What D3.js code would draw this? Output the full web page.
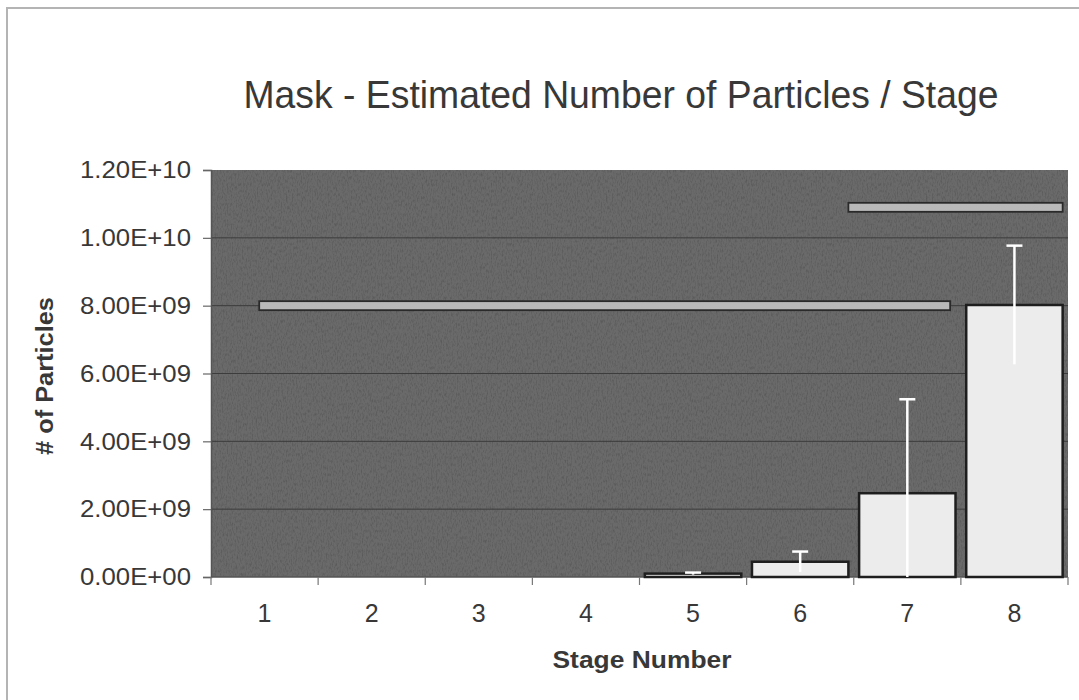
<!DOCTYPE html>
<html>
<head>
<meta charset="utf-8">
<script src="https://cdn.jsdelivr.net/npm/d3@7"></script>
<style>
  html, body { margin: 0; padding: 0; background: #fff; }
  svg { display: block; }
  text { font-family: "Liberation Sans", Arial, sans-serif; fill: #383838; }
</style>
</head>
<body>
<svg id="chart" width="1079" height="700"></svg>
<script>
// Stages of the impactor and estimated particle counts per stage
const stages = [1, 2, 3, 4, 5, 6, 7, 8];
const particleCounts = [0, 0, 0, 0, 1.0e8, 4.5e8, 2.47e9, 8.02e9];
const particleErrors = [0, 0, 0, 0, 3.0e7, 3.0e8, 2.77e9, 1.75e9];

// Reference levels spanning ranges of stages (stage units on a continuous axis)
const levelFrom = [0.95, 6.45];
const levelTo = [7.4, 8.45];
const levelValues = [8.0e9, 1.09e10];

const yTicks = [0, 2e9, 4e9, 6e9, 8e9, 1e10, 1.2e10];
const yTickLabels = ["0.00E+00", "2.00E+09", "4.00E+09", "6.00E+09", "8.00E+09", "1.00E+10", "1.20E+10"];

const titleText = "Mask - Estimated Number of Particles / Stage";
const xTitle = "Stage Number";
const yTitle = "# of Particles";

const svg = d3.select("#chart");
const plot = { left: 211, right: 1068, top: 170, bottom: 577 };

// outer chart frame
svg.append("rect")
  .attr("x", 7).attr("y", 8)
  .attr("width", 1100).attr("height", 720)
  .attr("fill", "#fff")
  .attr("stroke", "#b4b4b4").attr("stroke-width", 2);

const x = d3.scaleBand()
  .domain(stages)
  .range([plot.left, plot.right])
  .paddingInner(0.1).paddingOuter(0.05);

const xBand = d3.scaleBand().domain(stages).range([plot.left, plot.right]);
const xPos = d3.scaleLinear().domain([0.5, 8.5]).range([plot.left, plot.right]);

const y = d3.scaleLinear().domain([0, 1.2e10]).range([plot.bottom, plot.top]);

// grainy plot background
const defs = svg.append("defs");
const f = defs.append("filter").attr("id", "grain")
  .attr("x", 0).attr("y", 0).attr("width", 1).attr("height", 1);
f.append("feTurbulence").attr("type", "fractalNoise")
  .attr("baseFrequency", "0.8 0.3").attr("numOctaves", 2).attr("seed", 4).attr("result", "n");
f.append("feColorMatrix").attr("in", "n").attr("type", "matrix")
  .attr("values", "0 0 0 0 0  0 0 0 0 0  0 0 0 0 0  -1.6 0 0 0 0.9")
  .attr("result", "c");
f.append("feComposite").attr("in", "c").attr("in2", "SourceGraphic").attr("operator", "in");

svg.append("rect")
  .attr("x", plot.left).attr("y", plot.top)
  .attr("width", plot.right - plot.left).attr("height", plot.bottom - plot.top)
  .attr("fill", "#6a6a6a");
svg.append("rect")
  .attr("x", plot.left).attr("y", plot.top)
  .attr("width", plot.right - plot.left).attr("height", plot.bottom - plot.top)
  .attr("fill", "#000")
  .attr("filter", "url(#grain)")
  .attr("opacity", 0.22);

// gridlines
svg.append("g")
  .selectAll("line")
  .data(yTicks.filter(t => t > 0 && t < 1.2e10))
  .join("line")
  .attr("x1", plot.left).attr("x2", plot.right)
  .attr("y1", d => y(d)).attr("y2", d => y(d))
  .attr("stroke", "#3c3c3c").attr("stroke-width", 1);

// y axis
const yAxis = d3.axisLeft(y)
  .tickValues(yTicks)
  .tickFormat((d, i) => yTickLabels[i])
  .tickSize(8).tickPadding(12);
const gy = svg.append("g")
  .attr("transform", `translate(${plot.left},0)`)
  .call(yAxis);
gy.select(".domain").attr("stroke", "#555").attr("stroke-width", 1.5);
gy.selectAll(".tick line").attr("stroke", "#666").attr("stroke-width", 1.2);
gy.selectAll(".tick text")
  .style("font-size", "24px")
  .attr("textLength", 111).attr("lengthAdjust", "spacingAndGlyphs")
  .attr("fill", "#383838");

// x axis: ticks between categories, labels centred in each band
const gx = svg.append("g").attr("transform", `translate(0,${plot.bottom})`);
gx.append("line")
  .attr("x1", plot.left).attr("x2", plot.right)
  .attr("stroke", "#555").attr("stroke-width", 1.5);
gx.selectAll("line.tk")
  .data(stages.concat([stages.length + 1]))
  .join("line").attr("class", "tk")
  .attr("x1", d => xPos(d - 0.5)).attr("x2", d => xPos(d - 0.5))
  .attr("y1", 0).attr("y2", 8)
  .attr("stroke", "#777").attr("stroke-width", 1.2);
gx.selectAll("text")
  .data(stages)
  .join("text")
  .attr("x", d => xBand(d) + xBand.bandwidth() / 2)
  .attr("y", 45)
  .attr("text-anchor", "middle")
  .style("font-size", "25px")
  .text(d => d);

// bars
svg.append("g")
  .selectAll("rect")
  .data(stages.map((s, i) => ({ s, v: particleCounts[i] })).filter(d => d.v > 0))
  .join("rect")
  .attr("x", d => x(d.s))
  .attr("width", x.bandwidth())
  .attr("y", d => y(d.v))
  .attr("height", d => plot.bottom - y(d.v))
  .attr("fill", "#ececec")
  .attr("stroke", "#1e1e1e").attr("stroke-width", 2.5);

// error bars
const errG = svg.append("g");
const errData = stages.map((s, i) => ({ s, v: particleCounts[i], e: particleErrors[i] })).filter(d => d.e > 0);
errG.selectAll("line.stem")
  .data(errData)
  .join("line").attr("class", "stem")
  .attr("x1", d => x(d.s) + x.bandwidth() / 2)
  .attr("x2", d => x(d.s) + x.bandwidth() / 2)
  .attr("y1", d => y(Math.max(0, d.v - d.e)))
  .attr("y2", d => y(d.v + d.e))
  .attr("stroke", "#fff").attr("stroke-width", 2.5);
errG.selectAll("line.cap")
  .data(errData)
  .join("line").attr("class", "cap")
  .attr("x1", d => x(d.s) + x.bandwidth() / 2 - 8)
  .attr("x2", d => x(d.s) + x.bandwidth() / 2 + 8)
  .attr("y1", d => y(d.v + d.e))
  .attr("y2", d => y(d.v + d.e))
  .attr("stroke", "#fff").attr("stroke-width", 2.5);

// reference level bars
svg.append("g")
  .selectAll("rect")
  .data(levelValues.map((v, i) => ({ v, a: levelFrom[i], b: levelTo[i] })))
  .join("rect")
  .attr("x", d => xPos(d.a))
  .attr("width", d => xPos(d.b) - xPos(d.a))
  .attr("y", d => y(d.v) - 4.5)
  .attr("height", 9)
  .attr("fill", "#b9b9b9")
  .attr("stroke", "#2a2a2a").attr("stroke-width", 1.8);

// titles
svg.append("text")
  .attr("x", 621).attr("y", 108)
  .attr("text-anchor", "middle")
  .attr("textLength", 755).attr("lengthAdjust", "spacingAndGlyphs")
  .style("font-size", "39px")
  .text(titleText);

svg.append("text")
  .attr("x", 642).attr("y", 668)
  .attr("text-anchor", "middle")
  .attr("textLength", 179).attr("lengthAdjust", "spacingAndGlyphs")
  .style("font-size", "23px").style("font-weight", "bold")
  .text(xTitle);

svg.append("text")
  .attr("transform", "translate(53,376) rotate(-90)")
  .attr("text-anchor", "middle")
  .attr("textLength", 158).attr("lengthAdjust", "spacingAndGlyphs")
  .style("font-size", "23px").style("font-weight", "bold")
  .text(yTitle);
</script>
</body>
</html>
